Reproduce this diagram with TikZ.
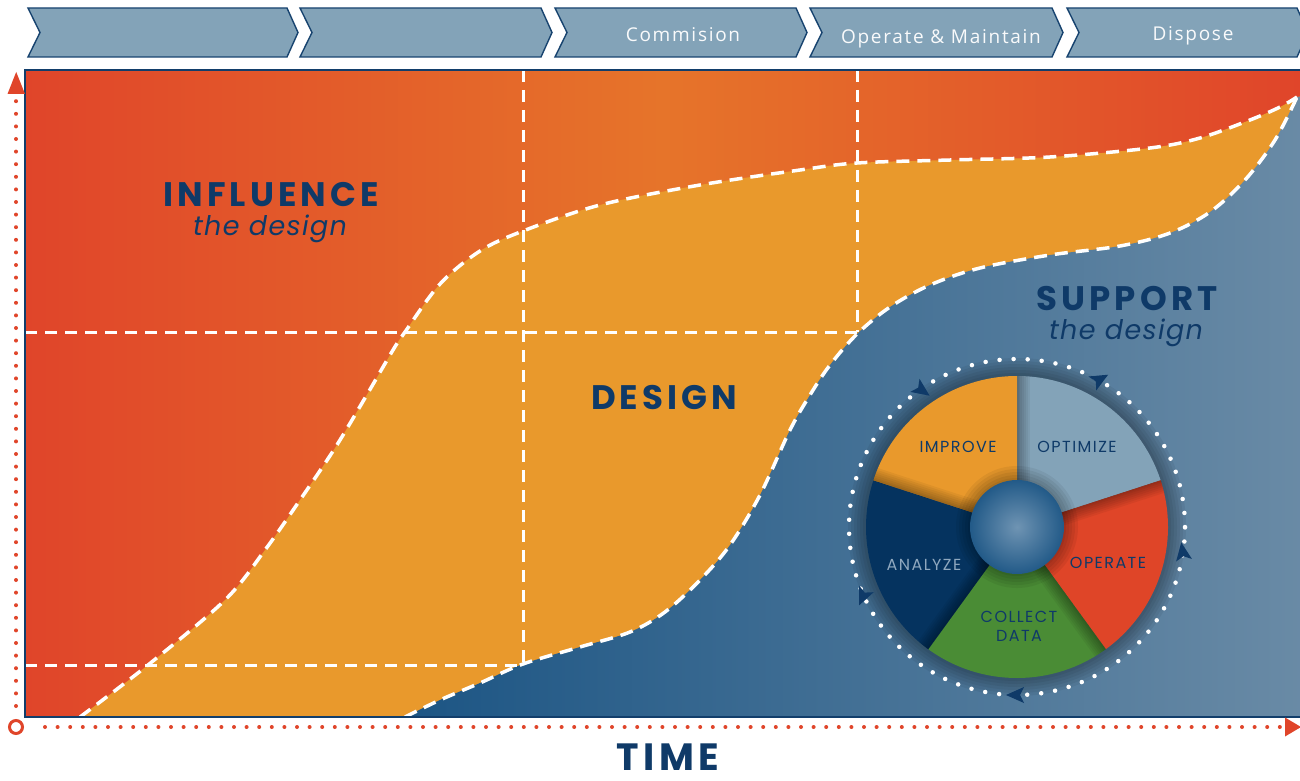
\documentclass[tikz,border=0pt]{standalone}
\usepackage{fontspec}
\setmainfont{Poppins}
\newfontfamily\chevfont[LetterSpace=9]{Open Sans}
\newfontfamily\titlefont[LetterSpace=12]{Poppins}
\newfontfamily\subfont[LetterSpace=5]{Poppins}
\newfontfamily\piefont[LetterSpace=9]{Poppins}
\usetikzlibrary{calc}
\definecolor{navy}{HTML}{0F3A68}
\definecolor{chevfill}{HTML}{83A3B8}
\definecolor{chevline}{HTML}{17436F}
\definecolor{redA}{HTML}{E0452A}
\definecolor{orangeA}{HTML}{E6742A}
\definecolor{design}{HTML}{E9992C}
\definecolor{blueA}{HTML}{1C5584}
\definecolor{blueB}{HTML}{6A8BA6}
\definecolor{optim}{HTML}{83A3B8}
\definecolor{opred}{HTML}{DF4528}
\definecolor{leaf}{HTML}{4A8C35}
\definecolor{navyS}{HTML}{05335F}
\definecolor{anatext}{HTML}{8FA8BF}
\definecolor{sphereIn}{HTML}{6F94B3}
\definecolor{sphereOut}{HTML}{225A88}
\definecolor{axisred}{HTML}{E0452A}
\definecolor{frame}{HTML}{123E6B}
\tikzset{
  chev/.style={fill=chevfill, draw=chevline, line width=1.4pt, line join=miter},
  chevtext/.style={text=white!95!chevfill, font=\chevfont\fontsize{19}{19}\selectfont, inner sep=0pt, anchor=base},
  gridline/.style={white, line width=3pt, dash pattern=on 12pt off 8pt},
  curveline/.style={white, line width=3.5pt, dash pattern=on 13pt off 8pt},
  bigtitle/.style={text=navy, font=\titlefont\fontsize{34}{34}\selectfont\bfseries, inner sep=0pt},
  subtitle/.style={text=navy, font=\subfont\fontsize{27}{27}\selectfont\itshape, inner sep=0pt},
  pietext/.style={text=navy, font=\piefont\fontsize{16}{19}\selectfont, align=center, inner sep=0pt},
  axisdots/.style={axisred, line width=4pt, line cap=round, dash pattern=on 0pt off 12.6pt},
}
\def\upperpts{(80,717) (148,665) (225,600) (265,550) (300,500) (335,448) (365,398) (393,350) (405,332) (440,284) (480,251) (523,231) (600,205) (700,185) (800,170) (857,163) (950,160) (1050,157) (1150,148) (1200,138) (1250,120) (1280,107) (1297,97)}
\def\lowerpts{(405,717) (440,700) (480,683) (523,664) (580,647) (630,632) (665,612) (700,580) (730,545) (760,495) (790,430) (810,395) (830,365) (857,334) (890,307) (930,285) (980,268) (1050,255) (1120,246) (1170,233) (1210,212) (1245,180) (1275,140) (1297,97)}
\begin{document}
\begin{tikzpicture}[x=1pt,y=-1pt]
\useasboundingbox (0,0) rectangle (1300,781);
\fill[white] (0,0) rectangle (1300,781);
% chevrons
\foreach \L/\R in {28/287, 300/541, 555/796, 810/1052, 1067/1297} {
  \draw[chev] (\L,8) -- (\R,8) -- (\R+11,32.5) -- (\R,57) -- (\L,57) -- (\L+12,32.5) -- cycle;
}
\node[chevtext] (commision) at (683,42) {Commision};
\node[chevtext] (operate) at (941,44) {Operate \& Maintain};
\node[chevtext] (dispose) at (1193,41) {Dispose};
% chart
\begin{scope}
  \clip (25,70) rectangle (1300,717);
  \shade[left color=redA, right color=redA, middle color=orangeA] (25,70) rectangle (1300,717);
  \fill[design] plot[smooth,tension=0.55] coordinates {\upperpts} -- (1310,95) -- (1310,720) -- cycle;
  \shade[left color=blueA, right color=blueB] plot[smooth,tension=0.55] coordinates {\lowerpts} -- (1310,95) -- (1310,720) -- cycle;
  \draw[gridline] (25,332) -- (857,332);
  \draw[gridline] (25,665) -- (523,665);
  \draw[gridline] (523,70) -- (523,665);
  \draw[gridline] (857,70) -- (857,332);
  \draw[curveline] plot[smooth,tension=0.55] coordinates {\upperpts};
  \draw[curveline] plot[smooth,tension=0.55] coordinates {\lowerpts};
\end{scope}
\draw[frame, line width=2.5pt] (1302,70) -- (25,70) -- (25,717) -- (1302,717);
% titles
\node[bigtitle] (influence) at (271,195) {INFLUENCE};
\node[subtitle] (infsub) at (270,229) {the design};
\node[bigtitle] (designt) at (664,398) {DESIGN};
\node[bigtitle] (support) at (1127,299) {SUPPORT};
\node[subtitle] (supsub) at (1126,333) {the design};
% axes
\node[circle, draw=axisred, line width=3pt, fill=white, minimum size=13pt, inner sep=0pt] (origin) at (16,727) {};
\coordinate (ytop) at (16,100);
\coordinate (xend) at (1282,727);
\draw[axisdots, shorten <=13pt] (origin) -- (ytop);
\draw[axisdots, shorten <=21pt] (origin) -- (xend);
\fill[axisred] (7.5,94) -- (25,94) -- (16.2,72) -- cycle;
\fill[axisred] (1285,717.5) -- (1285,736.5) -- (1301,727) -- cycle;
\node[text=navy, font=\titlefont\fontsize{38}{38}\selectfont\bfseries, inner sep=0pt] (time) at (668,757) {TIME};
% wheel
\begin{scope}[shift={(1017,527)}, yscale=-1]
  \foreach \k in {18,15,12,9,6,3} \fill[black,opacity=0.055] (0,0) circle[radius=151+\k];
  \foreach \a/\c in {18/optim, -54/opred, -126/leaf, 162/navyS, 90/design} {
    \fill[\c] (0,0) -- (\a:151) arc[start angle=\a, delta angle=72, radius=151] -- cycle;
  }
  \foreach \a in {18,-54,-126,162,90} {
    \begin{scope}
      \clip (0,0) -- (\a:151) arc[start angle=\a, delta angle=72, radius=151] -- cycle;
      \foreach \w in {26,22,18,14,10,6,3} \draw[black,opacity=0.05,line width=\w pt] (0,0) -- (\a+72:160);
    \end{scope}
  }
  \foreach \k in {14,11,8,5,2} \fill[black,opacity=0.06] (0,0) circle[radius=47+\k];
  \shade[inner color=sphereIn, outer color=sphereOut] (0,0) circle[radius=47];
  \draw[white, line width=4.5pt, line cap=round, dash pattern=on 0pt off 14.07pt] (0,0) circle[radius=168];
  \foreach \a in {61,-9,-90,204,125}
    \fill[navy, shift={(\a:168)}, rotate=\a-90] (11,0) -- (-7,8) -- (-3,0) -- (-7,-8) -- cycle;
\end{scope}
\node[pietext] (improve) at (958,447) {IMPROVE};
\node[pietext] (optimize) at (1077,447) {OPTIMIZE};
\node[pietext] (operatep) at (1108,563) {OPERATE};
\node[pietext] (collect) at (1019,626) {COLLECT\\DATA};
\node[pietext, text=anatext] (analyze) at (924,565) {ANALYZE};
\end{tikzpicture}
\end{document}
